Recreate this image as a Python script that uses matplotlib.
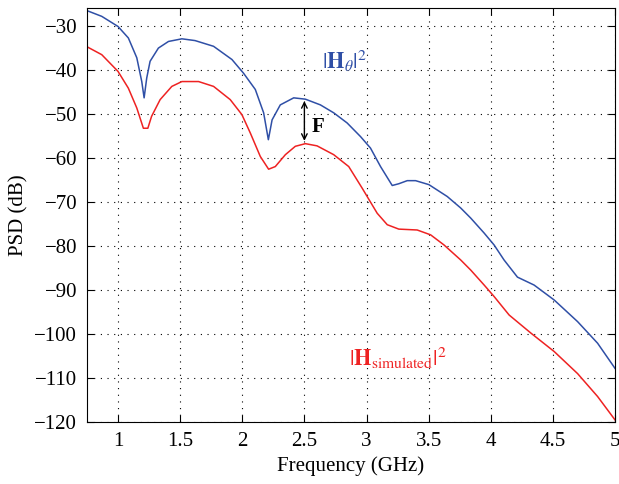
import numpy as np
import matplotlib
matplotlib.use("Agg")
import matplotlib.pyplot as plt

plt.rcParams['font.family'] = ['Liberation Serif', 'DejaVu Serif']
plt.rcParams['mathtext.fontset'] = 'stix'

# Frequency (GHz) and PSD (dB)
f_theta = [0.75, 0.869, 1.0, 1.083, 1.151, 1.191, 1.21, 1.231, 1.258, 1.325, 1.406,
           1.514, 1.62, 1.769, 1.917, 2.01, 2.105, 2.172, 2.21, 2.24, 2.306, 2.414,
           2.508, 2.629, 2.736, 2.844, 2.952, 3.032, 3.113, 3.207, 3.26, 3.328, 3.395,
           3.502, 3.65, 3.758, 3.839, 3.947, 4.027, 4.107, 4.215, 4.349, 4.511, 4.699,
           4.86, 5.0]
psd_theta = [-26.6, -27.9, -30.2, -32.8, -37.3, -42.7, -46.4, -41.9, -38.1, -35.1, -33.6,
             -33.0, -33.4, -34.7, -37.7, -40.8, -44.5, -49.8, -55.9, -51.4, -48.0, -46.4,
             -46.7, -48.0, -49.8, -52.1, -55.2, -57.8, -62.0, -66.3, -65.9, -65.2, -65.2,
             -66.1, -68.8, -71.4, -73.7, -77.1, -79.8, -83.2, -87.1, -88.9, -92.3, -97.2,
             -102.1, -107.8]

f_sim = [0.75, 0.869, 1.0, 1.083, 1.151, 1.204, 1.24, 1.27, 1.339, 1.433, 1.514,
         1.648, 1.769, 1.903, 1.997, 2.065, 2.145, 2.212, 2.266, 2.347, 2.427, 2.508,
         2.602, 2.736, 2.857, 2.965, 3.086, 3.167, 3.26, 3.408, 3.516, 3.624, 3.758,
         3.839, 3.947, 4.027, 4.148, 4.323, 4.511, 4.699, 4.86, 5.0]
psd_sim = [-34.8, -36.6, -40.4, -44.2, -48.7, -53.3, -53.3, -50.6, -46.8, -43.8, -42.7,
           -42.7, -43.8, -46.8, -50.2, -54.4, -59.7, -62.6, -62.0, -59.3, -57.4, -56.8,
           -57.3, -59.3, -62.0, -66.9, -72.6, -75.2, -76.2, -76.4, -77.5, -79.8, -83.2,
           -85.5, -88.9, -91.5, -95.7, -99.8, -104.0, -109.0, -114.2, -119.5]

blue = '#2f4fa6'
red = '#ee2222'

fig = plt.figure(figsize=(6.19, 4.84), dpi=100)
ax = fig.add_axes([0.1405, 0.128, 0.853, 0.8555])

ax.plot(f_theta, psd_theta, color=blue, lw=1.1)
ax.plot(f_sim, psd_sim, color=red, lw=1.1)

ax.set_xlim(0.75, 5)
ax.set_ylim(-120, -26)
ax.set_xticks(np.arange(1, 5.01, 0.5))
ax.set_xticklabels(['1', '1.5', '2', '2.5', '3', '3.5', '4', '4.5', '5'])
ax.set_yticks(np.arange(-120, -29, 10))
ax.grid(True, color='black', linestyle=(0, (1, 5)), lw=0.8)
ax.tick_params(direction='in', top=True, right=True, labelsize=15, length=5, pad=7)
for s in ax.spines.values():
    s.set_linewidth(0.8)

ax.set_xlabel('Frequency (GHz)', fontsize=15, labelpad=4)
ax.set_ylabel('PSD (dB)', fontsize=15, labelpad=4)

# double arrow marking the gap F at 2.5 GHz
ax.annotate('', xy=(2.5, -46.5), xytext=(2.5, -56.8),
            arrowprops=dict(arrowstyle='<->', color='black', lw=1.0))
ax.text(2.56, -53.0, 'F', fontsize=15, fontweight='bold', va='center', ha='left')

ax.text(2.64, -38.2, r'$|\mathbf{H}_{\theta}|^2$', color=blue, fontsize=16, ha='left', va='center')
ax.text(2.86, -105.5, r'$|\mathbf{H}_{\mathrm{simulated}}|^2$', color=red, fontsize=16,
        ha='left', va='center')

fig.savefig('out.png', dpi=100)
